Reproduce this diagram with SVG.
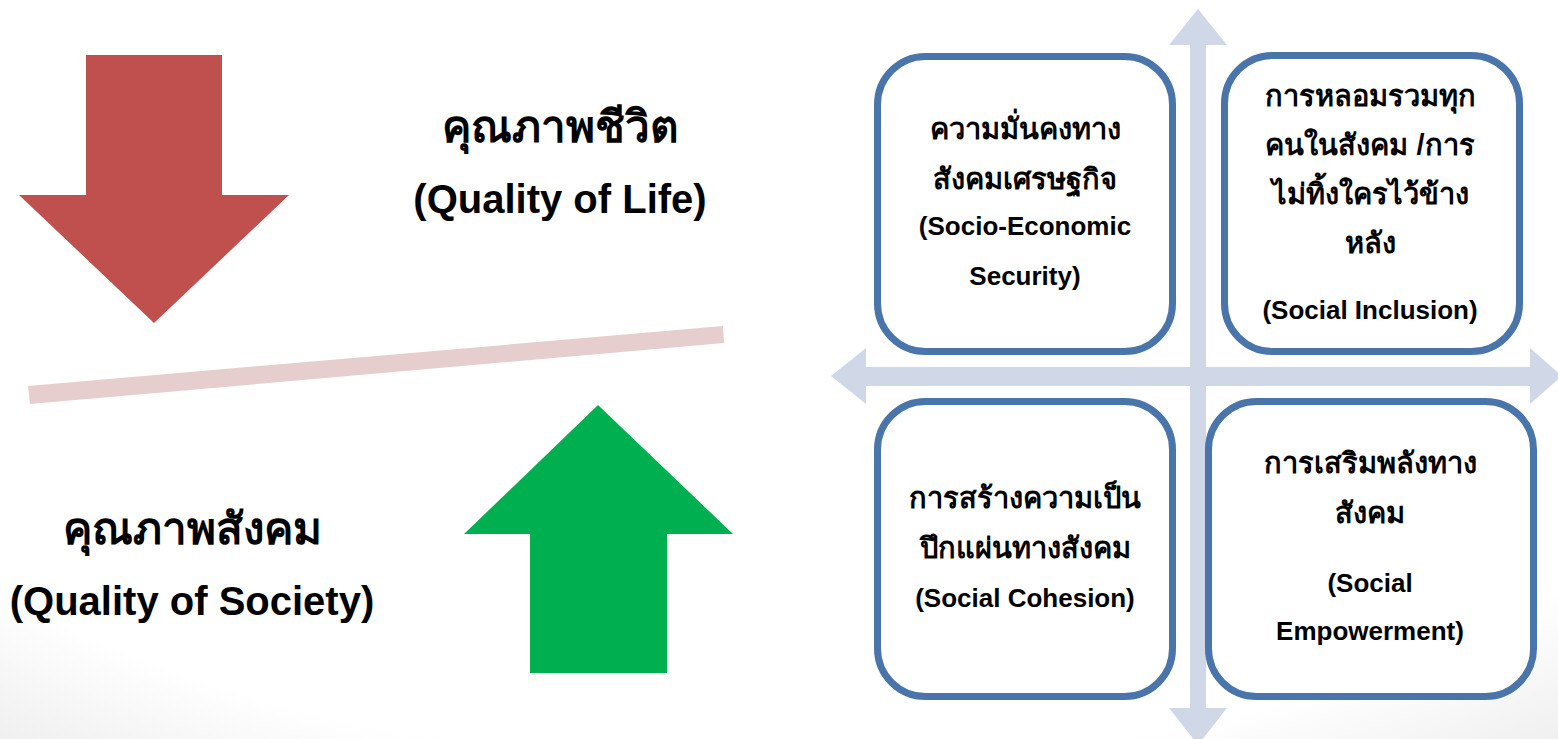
<svg xmlns="http://www.w3.org/2000/svg" width="1558" height="739" viewBox="0 0 1558 739">
<defs>
<radialGradient id="bg" cx="50%" cy="40%" r="85%">
<stop offset="0.75" stop-color="#ffffff"/>
<stop offset="1" stop-color="#e8e8e8"/>
</radialGradient>
</defs>
<style>
.t{font-family:"Liberation Sans","Noto Sans",sans-serif;font-weight:bold;fill:#000;text-anchor:middle}
.big{font-size:44px}
.bige{font-size:40px}
.bt{font-size:29px}
.be{font-size:26px}
.box{fill:#fff;stroke:#4A75AB;stroke-width:7}
.axis{fill:#D0D8E8}
</style>
<rect width="1558" height="739" fill="url(#bg)"/>
<g id="down-arrow"><polygon points="86,55 222,55 222,195 289,195 154,323 19,195 86,195" fill="#C0504D"/></g>
<g id="up-arrow"><polygon points="598,405 733,534 667,534 667,673 530,673 530,534 464,534" fill="#00B050"/></g>
<g id="balance-bar"><polygon points="28,386 723,326 724,343 30,404" fill="#E6CECE"/></g>
<g id="quality-of-life">
<text class="t big" x="560" y="142">คุณภาพชีวิต</text>
<text class="t bige" x="560" y="213">(Quality of Life)</text>
</g>
<g id="quality-of-society">
<text class="t big" x="192" y="544">คุณภาพสังคม</text>
<text class="t bige" x="192" y="615">(Quality of Society)</text>
</g>
<g id="connectors">
<polygon class="axis" points="1198,9 1227,45 1206,45 1206,367 1530,367 1530,348 1562,376 1530,404 1530,386 1206,386 1206,708 1227,708 1198,745 1169,708 1190,708 1190,386 866,386 866,404 831,376 866,348 866,367 1190,367 1190,45 1169,45"/>
</g>
<g id="socio-economic-security">
<rect class="box" x="877.5" y="56.5" width="295" height="295" rx="48"/>
<text class="t bt" x="1025" y="139">ความมั่นคงทาง</text>
<text class="t bt" x="1025" y="189">สังคมเศรษฐกิจ</text>
<text class="t be" x="1025" y="235">(Socio-Economic</text>
<text class="t be" x="1025" y="285">Security)</text>
</g>
<g id="social-inclusion">
<rect class="box" x="1224.5" y="55.5" width="295" height="296" rx="48"/>
<text class="t bt" x="1370" y="106">การหลอมรวมทุก</text>
<text class="t bt" x="1370" y="155">คนในสังคม /การ</text>
<text class="t bt" x="1370" y="204">ไม่ทิ้งใครไว้ข้าง</text>
<text class="t bt" x="1370" y="253">หลัง</text>
<text class="t be" x="1370" y="319">(Social Inclusion)</text>
</g>
<g id="social-cohesion">
<rect class="box" x="877.5" y="401.5" width="295" height="295" rx="48"/>
<text class="t bt" x="1025" y="508">การสร้างความเป็น</text>
<text class="t bt" x="1025" y="558">ปึกแผ่นทางสังคม</text>
<text class="t be" x="1025" y="607">(Social Cohesion)</text>
</g>
<g id="social-empowerment">
<rect class="box" x="1208.5" y="401.5" width="325" height="295" rx="48"/>
<text class="t bt" x="1370" y="473">การเสริมพลังทาง</text>
<text class="t bt" x="1370" y="523">สังคม</text>
<text class="t be" x="1370" y="592">(Social</text>
<text class="t be" x="1370" y="640">Empowerment)</text>
</g>
</svg>
